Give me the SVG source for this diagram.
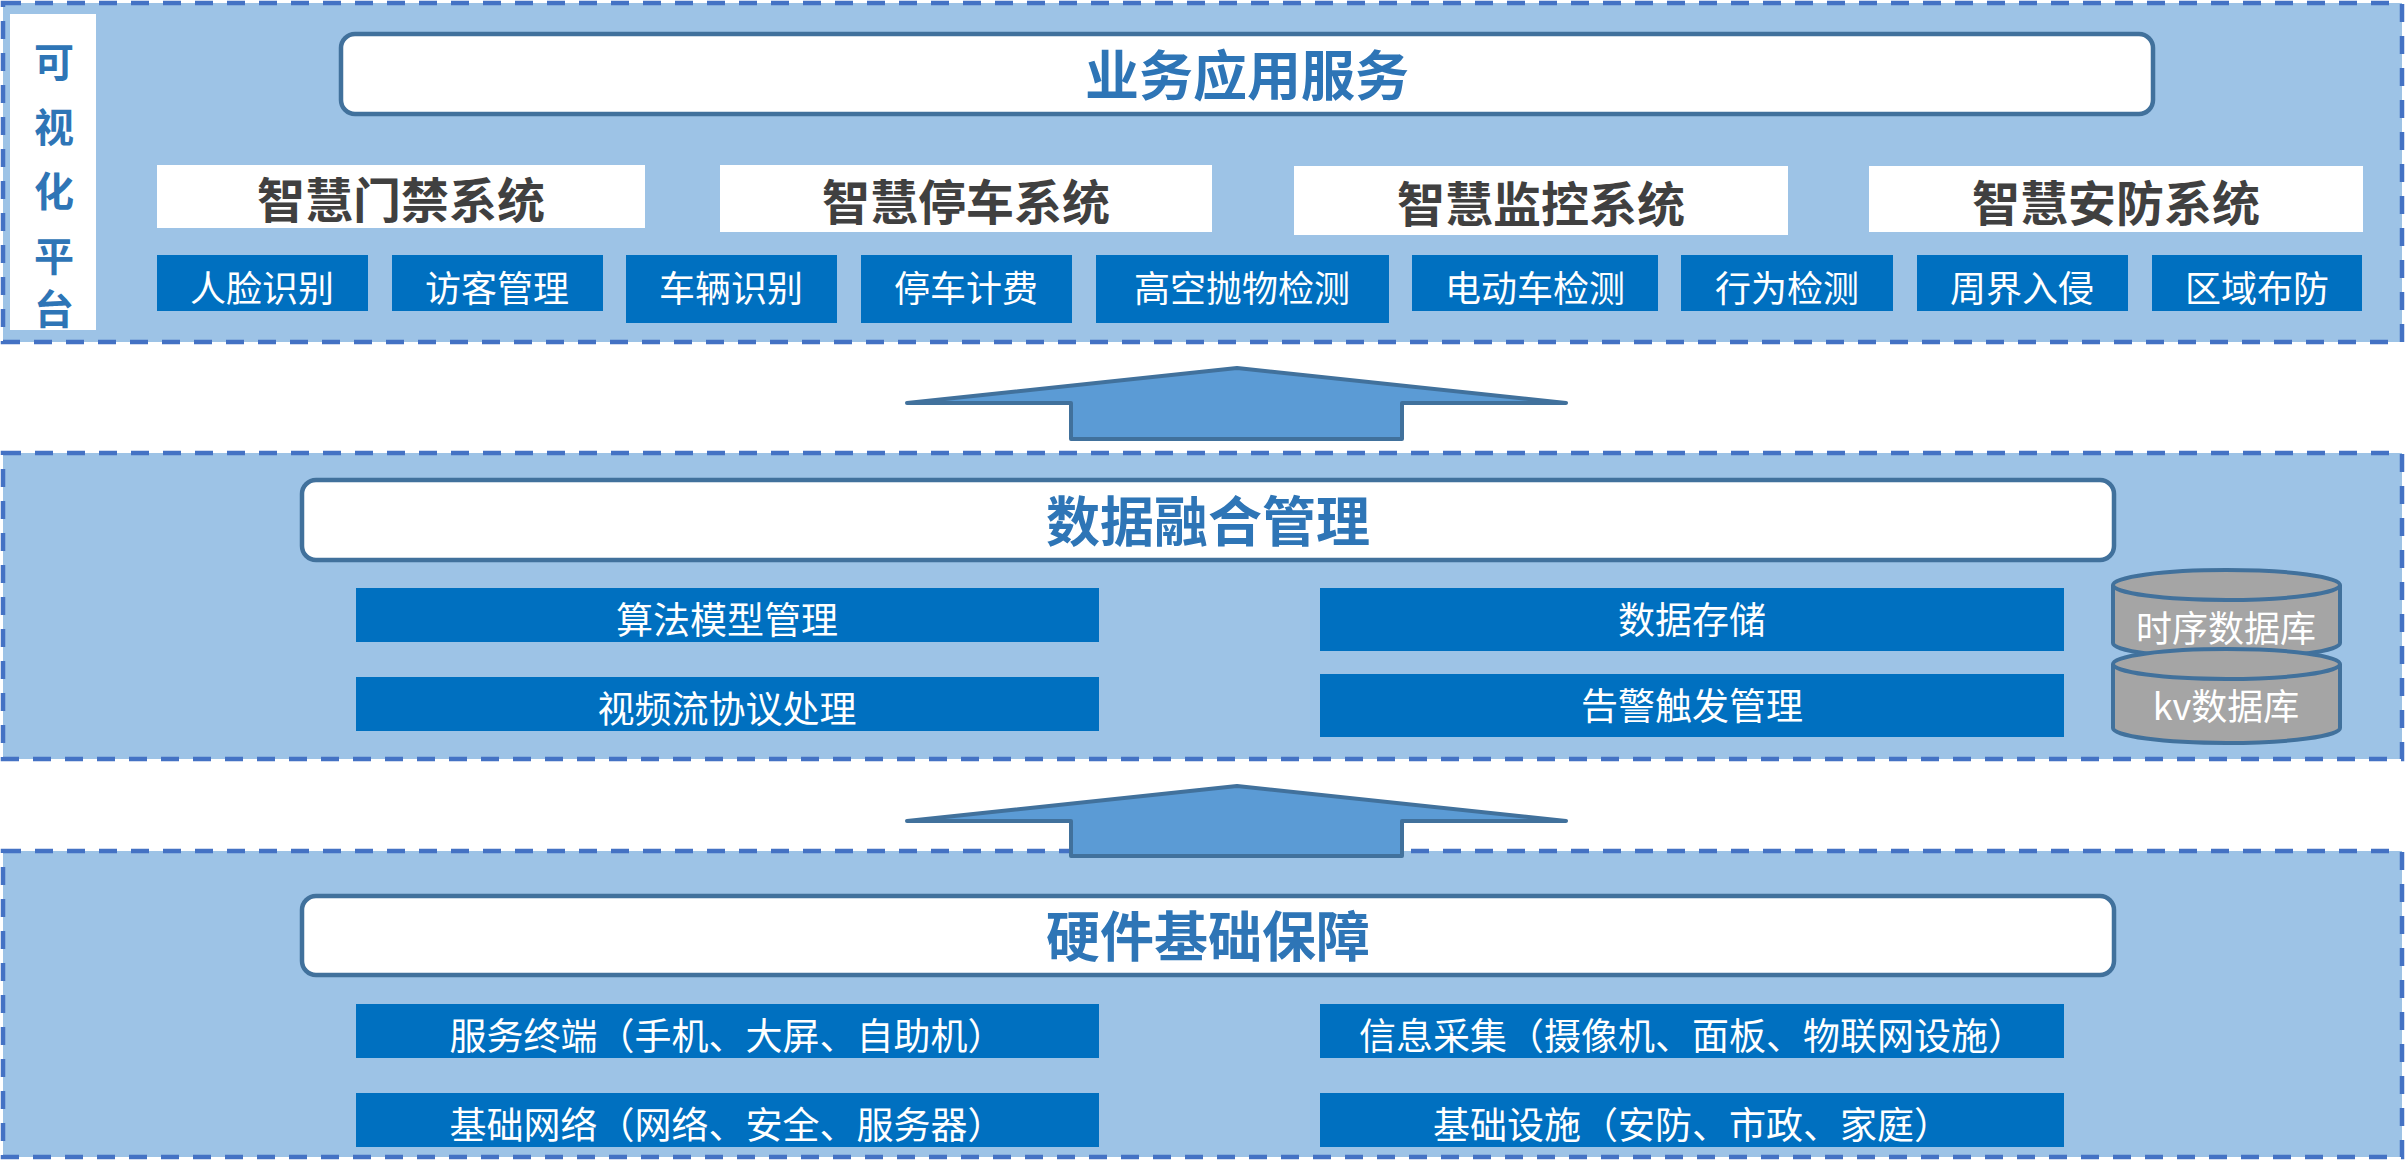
<svg xmlns="http://www.w3.org/2000/svg" width="2406" height="1169" viewBox="0 0 2406 1169">
<style>
.panel{fill:#9DC3E6;stroke:#4472C4;stroke-width:4.5;stroke-dasharray:18 14}
.title{fill:#FFFFFF;stroke:#41719C;stroke-width:4.5}
.sys{fill:#FFFFFF}
.blue{fill:#0070C0}
.arrow{fill:#5B9BD5;stroke:#41719C;stroke-width:4;stroke-linejoin:round}
.cyl{fill:#A5A5A5;stroke:#41719C;stroke-width:4}
text{font-family:"Noto Sans CJK SC","Microsoft YaHei",sans-serif;text-anchor:middle}
.tt{font-size:54px;font-weight:700;fill:#2E75B6}
.st{font-size:48px;font-weight:700;fill:#404040}
.wt{font-size:36px;fill:#FFFFFF}
.wt2{font-size:37px;fill:#FFFFFF}
.vt{font-size:40px;font-weight:700;fill:#2E75B6}
</style>
<rect x="0" y="0" width="2406" height="1169" fill="#FFFFFF"/>

<g id="panel-business">
<rect class="panel" x="3" y="3" width="2399" height="339"/>
</g>
<g id="panel-data">
<rect class="panel" x="3" y="453" width="2399" height="306"/>
</g>
<g id="panel-hardware">
<rect class="panel" x="3" y="851" width="2399" height="306"/>
</g>

<g id="visual-platform">
<rect class="sys" x="10" y="14" width="86" height="316"/>
<text class="vt" x="54" y="77">可</text>
<text class="vt" x="54" y="142">视</text>
<text class="vt" x="54" y="206">化</text>
<text class="vt" x="54" y="271">平</text>
<text class="vt" x="54" y="324">台</text>
</g>

<g id="business-title">
<rect class="title" x="341" y="34" width="1812" height="80" rx="14"/>
<text class="tt" x="1247" y="96">业务应用服务</text>
</g>

<g id="sys-door">
<rect class="sys" x="157" y="165" width="488" height="63"/>
<text class="st" x="401" y="218">智慧门禁系统</text>
</g>
<g id="sys-parking">
<rect class="sys" x="720" y="165" width="492" height="67"/>
<text class="st" x="966" y="220">智慧停车系统</text>
</g>
<g id="sys-monitor">
<rect class="sys" x="1294" y="166" width="494" height="69"/>
<text class="st" x="1541" y="222">智慧监控系统</text>
</g>
<g id="sys-security">
<rect class="sys" x="1869" y="166" width="494" height="66"/>
<text class="st" x="2116" y="221">智慧安防系统</text>
</g>

<g id="face">
<rect class="blue" x="157" y="255" width="211" height="56"/>
<text class="wt" x="262" y="302">人脸识别</text>
</g>
<g id="visitor">
<rect class="blue" x="392" y="255" width="211" height="56"/>
<text class="wt" x="497" y="302">访客管理</text>
</g>
<g id="vehicle">
<rect class="blue" x="626" y="255" width="211" height="68"/>
<text class="wt" x="731" y="302">车辆识别</text>
</g>
<g id="fee">
<rect class="blue" x="861" y="255" width="211" height="68"/>
<text class="wt" x="966" y="302">停车计费</text>
</g>
<g id="throw">
<rect class="blue" x="1096" y="255" width="293" height="68"/>
<text class="wt" x="1242" y="302">高空抛物检测</text>
</g>
<g id="ebike">
<rect class="blue" x="1412" y="255" width="246" height="56"/>
<text class="wt" x="1535" y="302">电动车检测</text>
</g>
<g id="behavior">
<rect class="blue" x="1681" y="255" width="212" height="56"/>
<text class="wt" x="1787" y="302">行为检测</text>
</g>
<g id="perimeter">
<rect class="blue" x="1917" y="255" width="211" height="56"/>
<text class="wt" x="2022" y="302">周界入侵</text>
</g>
<g id="area">
<rect class="blue" x="2152" y="255" width="210" height="56"/>
<text class="wt" x="2257" y="302">区域布防</text>
</g>

<g id="connectors">
<polygon class="arrow" points="1237,368 1566,403 1402,403 1402,439 1071,439 1071,403 907,403"/>
<polygon class="arrow" points="1237,786 1566,821 1402,821 1402,856 1071,856 1071,821 907,821"/>
</g>

<g id="data-title">
<rect class="title" x="302" y="480" width="1812" height="80" rx="14"/>
<text class="tt" x="1208" y="542">数据融合管理</text>
</g>
<g id="algo">
<rect class="blue" x="356" y="588" width="743" height="54"/>
<text class="wt2" x="727" y="634">算法模型管理</text>
</g>
<g id="video">
<rect class="blue" x="356" y="677" width="743" height="54"/>
<text class="wt2" x="727" y="723">视频流协议处理</text>
</g>
<g id="storage">
<rect class="blue" x="1320" y="588" width="744" height="63"/>
<text class="wt2" x="1692" y="634">数据存储</text>
</g>
<g id="alarm">
<rect class="blue" x="1320" y="674" width="744" height="63"/>
<text class="wt2" x="1692" y="720">告警触发管理</text>
</g>

<g id="tsdb">
<path class="cyl" d="M2113,585 A113.5,15 0 0 1 2340,585 L2340,643 A113.5,15 0 0 1 2113,643 Z"/>
<path class="cyl" d="M2113,585 A113.5,15 0 0 0 2340,585"/>
<text class="wt" x="2226" y="642">时序数据库</text>
</g>
<g id="kvdb">
<path class="cyl" d="M2113,664 A113.5,15 0 0 1 2340,664 L2340,728 A113.5,15 0 0 1 2113,728 Z"/>
<path class="cyl" d="M2113,664 A113.5,15 0 0 0 2340,664"/>
<text class="wt" x="2226" y="720">kv数据库</text>
</g>

<g id="hardware-title">
<rect class="title" x="302" y="896" width="1812" height="79" rx="14"/>
<text class="tt" x="1208" y="957">硬件基础保障</text>
</g>
<g id="terminal">
<rect class="blue" x="356" y="1004" width="743" height="54"/>
<text class="wt2" x="727" y="1050">服务终端（手机、大屏、自助机）</text>
</g>
<g id="network">
<rect class="blue" x="356" y="1093" width="743" height="54"/>
<text class="wt2" x="727" y="1139">基础网络（网络、安全、服务器）</text>
</g>
<g id="collect">
<rect class="blue" x="1320" y="1004" width="744" height="54"/>
<text class="wt2" x="1692" y="1050">信息采集（摄像机、面板、物联网设施）</text>
</g>
<g id="infra">
<rect class="blue" x="1320" y="1093" width="744" height="54"/>
<text class="wt2" x="1692" y="1139">基础设施（安防、市政、家庭）</text>
</g>
</svg>
